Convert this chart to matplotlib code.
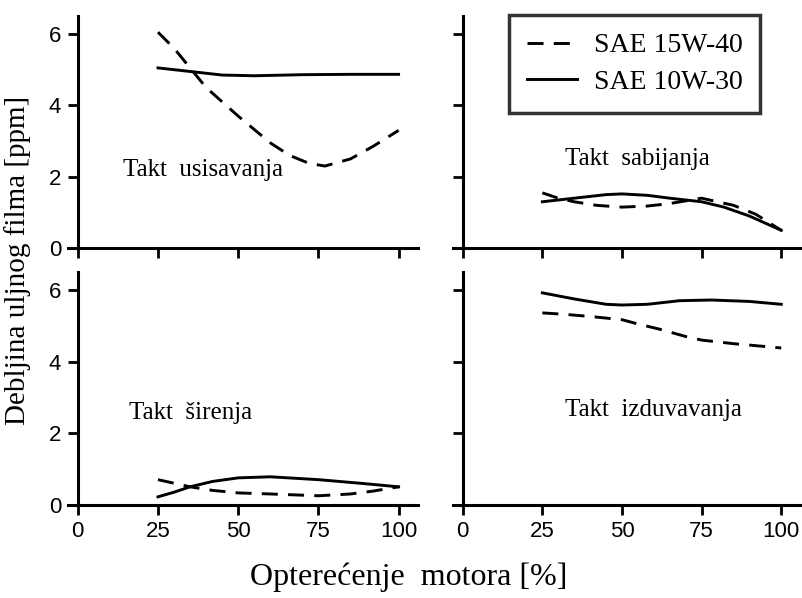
import matplotlib.pyplot as plt

plt.rcParams['font.family'] = ['Liberation Serif', 'DejaVu Serif']

# Takt usisavanja
usis_x15 = [25, 30, 35, 40, 50, 60, 66, 72, 77, 85, 92, 100]
usis_y15 = [6.05, 5.6, 5.05, 4.5, 3.7, 2.95, 2.6, 2.38, 2.3, 2.5, 2.85, 3.3]
usis_x10 = [25, 35, 45, 55, 70, 85, 100]
usis_y10 = [5.05, 4.95, 4.85, 4.83, 4.86, 4.87, 4.87]

# Takt sabijanja
sab_x15 = [25, 30, 35, 42, 50, 58, 65, 75, 85, 92, 100]
sab_y15 = [1.55, 1.4, 1.3, 1.2, 1.15, 1.18, 1.25, 1.4, 1.2, 0.95, 0.5]
sab_x10 = [25, 35, 45, 50, 58, 65, 75, 82, 90, 100]
sab_y10 = [1.3, 1.4, 1.5, 1.52, 1.48, 1.4, 1.3, 1.15, 0.9, 0.5]

# Takt sirenja
sir_x15 = [25, 30, 35, 42, 50, 60, 75, 85, 92, 100]
sir_y15 = [0.7, 0.6, 0.5, 0.4, 0.33, 0.3, 0.25, 0.3, 0.38, 0.5]
sir_x10 = [25, 30, 35, 42, 50, 60, 75, 88, 100]
sir_y10 = [0.22, 0.35, 0.5, 0.65, 0.75, 0.78, 0.7, 0.6, 0.5]

# Takt izduvavanja
izd_x15 = [25, 32, 40, 50, 55, 62, 70, 75, 85, 100]
izd_y15 = [5.36, 5.32, 5.26, 5.17, 5.05, 4.9, 4.7, 4.6, 4.5, 4.38]
izd_x10 = [25, 35, 45, 50, 58, 68, 78, 90, 100]
izd_y10 = [5.92, 5.75, 5.6, 5.58, 5.6, 5.7, 5.72, 5.68, 5.6]

panels = [
    ('Takt  usisavanja', usis_x15, usis_y15, usis_x10, usis_y10, 14, 2.2, 'left'),
    ('Takt  sabijanja', sab_x15, sab_y15, sab_x10, sab_y10, 54.7, 2.5, 'center'),
    ('Takt  širenja', sir_x15, sir_y15, sir_x10, sir_y10, 16, 2.55, 'left'),
    ('Takt  izduvavanja', izd_x15, izd_y15, izd_x10, izd_y10, 60, 2.64, 'center'),
]

xticks = [0, 25, 50, 75, 100]
yticks = [0, 2, 4, 6]

fig = plt.figure(figsize=(8.02, 5.98), dpi=100)
boxes = [
    [0.085, 0.585, 0.436, 0.388],
    [0.565, 0.585, 0.433, 0.388],
    [0.085, 0.156, 0.436, 0.389],
    [0.565, 0.156, 0.433, 0.389],
]

lw = 2.1
for i, (name, x15, y15, x10, y10, tx, ty, ha) in enumerate(panels):
    ax = fig.add_axes(boxes[i])
    l15, = ax.plot(x15, y15, color='black', lw=lw, linestyle=(0, (5.5, 3.5)),
                   label='SAE 15W-40')
    l10, = ax.plot(x10, y10, color='black', lw=lw, label='SAE 10W-30')
    ax.set_xlim(-3, 106)
    ax.set_ylim(0, 6.5)
    for s in ['top', 'right']:
        ax.spines[s].set_visible(False)
    ax.spines['left'].set_position(('data', 0))
    ax.spines['left'].set_linewidth(2.2)
    ax.spines['bottom'].set_linewidth(2.2)
    ax.set_xticks(xticks)
    ax.set_yticks(yticks)
    ax.tick_params(direction='out', length=7, width=2, labelsize=16, pad=5)
    for lab in ax.get_xticklabels() + ax.get_yticklabels():
        lab.set_family('Liberation Sans')
    if i < 2:
        ax.tick_params(labelbottom=False)
    if i % 2 == 1:
        ax.tick_params(labelleft=False)
    ax.text(tx, ty, name, ha=ha, va='center', fontsize=18)
    if i == 1:
        leg = ax.legend(handles=[l15, l10], loc='upper right',
                        bbox_to_anchor=(0.885, 1.005), borderaxespad=0,
                        fontsize=20, frameon=True, fancybox=False,
                        handlelength=1.8, borderpad=0.65, labelspacing=0.4,
                        handletextpad=0.6)
        leg.get_frame().set_edgecolor('black')
        leg.get_frame().set_linewidth(2.5)

fig.text(0.022, 0.565, 'Debljina uljnog filma [ppm]', rotation=90,
         ha='center', va='center', fontsize=21)
fig.text(0.51, 0.035, 'Opterećenje  motora [%]', ha='center', va='center',
         fontsize=23)

fig.savefig('out.png', dpi=100)
